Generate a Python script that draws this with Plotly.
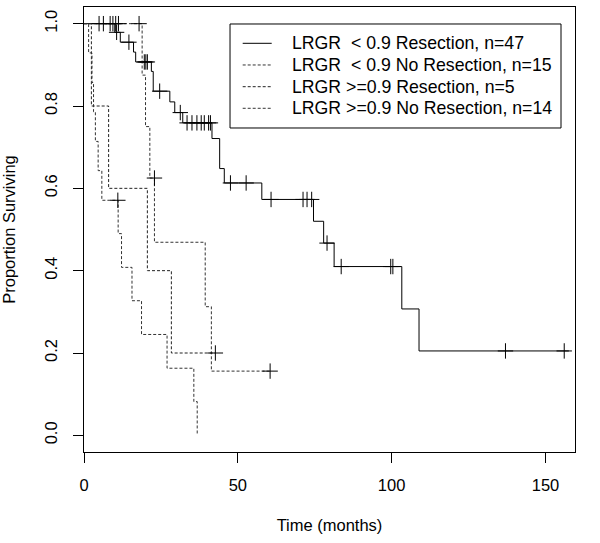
import plotly.graph_objects as go

# ---------------- data ----------------
# LRGR < 0.9, Resection (n=47)
a_time = [0, 10.0, 11.8, 16.1, 16.8, 21.9, 22.5, 27.9, 29.5, 32.1, 41.6, 44.1, 45.6,
          57.8, 74.6, 77.9, 81.3, 103.3, 108.9, 157.6]
a_surv = [1.0, 0.979, 0.955, 0.931, 0.907, 0.884, 0.836, 0.810, 0.784, 0.759, 0.721,
          0.648, 0.613, 0.573, 0.520, 0.467, 0.410, 0.307, 0.205, 0.205]
a_cens_time = [10.6, 14.6, 19.6, 20.1, 20.6, 24.6, 31.3, 33.5, 35.1, 36.7, 38.1, 39.1,
               40.5, 41.1, 47.6, 52.7, 60.8, 71.2, 72.5, 74.0, 79.0, 83.6, 99.7, 100.4,
               137.0, 156.1]
a_cens_surv = [0.979, 0.955, 0.907, 0.907, 0.907, 0.836, 0.784, 0.759, 0.759, 0.759,
               0.759, 0.759, 0.759, 0.759, 0.613, 0.613, 0.573, 0.573, 0.573, 0.573,
               0.467, 0.410, 0.410, 0.410, 0.205, 0.205]

# LRGR < 0.9, No Resection (n=15)
b_time = [0, 18.9, 20.0, 21.4, 22.9, 39.4, 41.4, 60.5]
b_surv = [1.0, 0.875, 0.750, 0.625, 0.469, 0.3125, 0.156, 0.156]
b_cens_time = [4.9, 6.3, 8.5, 9.4, 10.3, 11.2, 17.9, 22.9, 60.5]
b_cens_surv = [1.0, 1.0, 1.0, 1.0, 1.0, 1.0, 1.0, 0.625, 0.156]

# LRGR >= 0.9, Resection (n=5)
c_time = [0, 2.4, 8.0, 20.6, 28.4, 42.7]
c_surv = [1.0, 0.8, 0.6, 0.4, 0.2, 0.2]
c_cens_time = [42.7]
c_cens_surv = [0.2]

# LRGR >= 0.9, No Resection (n=14)
d_time = [0, 1.5, 2.6, 3.1, 3.7, 4.6, 5.8, 11.1, 12.2, 15.6, 18.7, 27.0, 35.7, 36.8]
d_surv = [1.0, 0.929, 0.857, 0.786, 0.714, 0.643, 0.571, 0.490, 0.408, 0.327, 0.245,
          0.163, 0.082, 0.0]
d_cens_time = [11.0]
d_cens_surv = [0.571]

names = ["LRGR \u00a0< 0.9 Resection, n=47", "LRGR \u00a0< 0.9 No Resection, n=15",
         "LRGR >=0.9 Resection, n=5", "LRGR >=0.9 No Resection, n=14"]

x_ticks = [0, 50, 100, 150]
y_ticks = [0.0, 0.2, 0.4, 0.6, 0.8, 1.0]

# ---------------- figure ----------------
FONT = "Liberation Sans, Arial, sans-serif"
series = [
    (a_time, a_surv, a_cens_time, a_cens_surv, "black", "solid"),
    (b_time, b_surv, b_cens_time, b_cens_surv, "#333333", "3px,2px"),
    (c_time, c_surv, c_cens_time, c_cens_surv, "#222222", "3px,2px"),
    (d_time, d_surv, d_cens_time, d_cens_surv, "#333333", "3px,2px"),
]

fig = go.Figure()
for (t, s, ct, cs, col, dash), name in zip(series, names):
    fig.add_trace(go.Scatter(x=t, y=s, mode="lines", name=name, showlegend=False,
                             line=dict(shape="hv", color=col, width=1, dash=dash)))
for (t, s, ct, cs, col, dash), name in zip(series, names):
    fig.add_trace(go.Scatter(x=ct, y=cs, mode="markers", showlegend=False,
                             name=name + " (censored)",
                             marker=dict(symbol="cross-thin", size=11,
                                         line=dict(color="black", width=1))))

# ---- legend box drawn in paper coordinates ----
leg_x0, leg_x1, leg_y0, leg_y1 = 0.2974, 0.9715, 0.7281, 0.9618
key_x0, key_x1, text_x = 0.3232, 0.3823, 0.4196
row_y = [0.9184, 0.8697, 0.8209, 0.7724]
fig.add_shape(type="rect", xref="paper", yref="paper", x0=leg_x0, x1=leg_x1,
              y0=leg_y0, y1=leg_y1, line=dict(color="black", width=1),
              fillcolor="white", layer="above")
for (t, s, ct, cs, col, dash), name, ry in zip(series, names, row_y):
    fig.add_shape(type="line", xref="paper", yref="paper", x0=key_x0, x1=key_x1,
                  y0=ry, y1=ry, line=dict(color=col, width=1, dash=dash), layer="above")
    fig.add_annotation(xref="paper", yref="paper", x=text_x, y=ry, text=name,
                       showarrow=False, xanchor="left", yanchor="middle",
                       font=dict(family=FONT, size=17.7, color="black"))

axis_common = dict(showline=True, mirror=True, linecolor="black", linewidth=1,
                   ticks="outside", ticklen=10, tickcolor="black", tickwidth=1,
                   showgrid=False, zeroline=False, automargin=False,
                   tickfont=dict(family=FONT, size=16.5, color="black"))

fig.update_layout(
    width=600, height=543,
    margin=dict(l=84, r=25, t=7, b=91),
    paper_bgcolor="white", plot_bgcolor="white",
    font=dict(family=FONT, size=16.5, color="black"),
    xaxis=dict(range=[0, 159.6], tickvals=x_ticks, ticklabelstandoff=8,
               title=dict(text="Time (months)", standoff=26,
                          font=dict(family=FONT, size=16.5, color="black")),
               **axis_common),
    yaxis=dict(range=[-0.0405, 1.0405], tickvals=y_ticks, tickformat=".1f",
               tickangle=-90, ticklabelstandoff=9,
               title=dict(text="Proportion Surviving", standoff=25,
                          font=dict(family=FONT, size=16.5, color="black")),
               **axis_common),
    showlegend=False,
)

fig.write_html("out.html", config={"displayModeBar": False},
               post_script="document.body.style.margin='0';")
